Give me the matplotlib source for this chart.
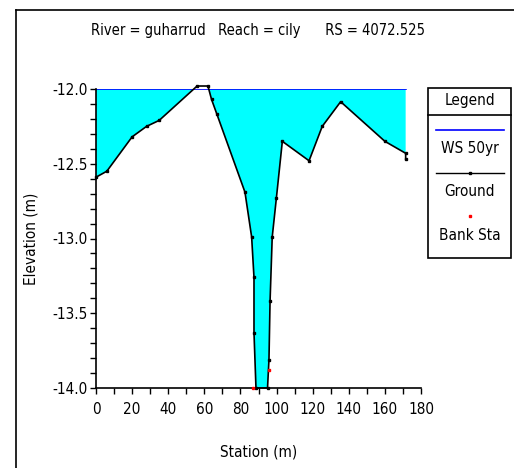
import matplotlib
matplotlib.use("Agg")
import matplotlib.pyplot as plt
from matplotlib.lines import Line2D
from matplotlib.patches import Rectangle
import numpy as np

plt.rcParams['font.family'] = ['DejaVu Sans']
plt.rcParams['font.stretch'] = 'condensed'

station = [0, 6, 20, 28, 35, 56, 62, 64, 67, 82.5, 86.2, 87.5, 87.5, 88.6, 95, 95.8, 96.4, 97.6, 99.9, 103.2, 118, 125.3, 135.5, 160, 171.5, 171.5]
elev = [-12.59, -12.55, -12.32, -12.25, -12.21, -11.98, -11.98, -12.07, -12.17, -12.69, -12.99, -13.26, -13.63, -14.0, -14.0, -13.81, -13.42, -12.99, -12.73, -12.35, -12.48, -12.25, -12.085, -12.35, -12.43, -12.47]
ws_elev = -12.0
ws_station = [0, 171.5]
bank_station = [87.1, 95.8]
bank_elev = [-14.0, -13.88]

fig = plt.figure(figsize=(5.14, 4.68), dpi=100)
ax = fig.add_axes([96/514, 1-388/468, 325/514, 299/468])

st = np.array(station); el = np.array(elev)
ax.fill_between(st, el, ws_elev, where=el <= ws_elev, interpolate=True, color='#00ffff', lw=0, zorder=1)
ax.plot(ws_station, [ws_elev, ws_elev], color='#0000ff', lw=1.2, zorder=2)
ax.plot(station, elev, color='black', lw=1.2, marker='s', ms=1.6, zorder=3, clip_on=False)
ax.plot(bank_station, bank_elev, ls='none', marker='s', ms=1.6, color='red', zorder=4, clip_on=False)

ax.set_xlim(0, 180)
ax.set_ylim(-14.0, -12.0)
ax.set_xticks(np.arange(0, 181, 20))
ax.set_xticks(np.arange(0, 181, 10), minor=True)
ax.set_yticks([-14.0, -13.5, -13.0, -12.5, -12.0])
ax.set_yticklabels(['-14.0', '-13.5', '-13.0', '-12.5', '-12.0'])
ax.set_yticks(np.arange(-14.0, -11.99, 0.1), minor=True)
for s in ['top', 'right']:
    ax.spines[s].set_visible(False)
for s in ['left', 'bottom']:
    ax.spines[s].set_linewidth(1.2)
ax.tick_params(which='both', direction='out', length=4, width=1, labelsize=11)
ax.tick_params(axis='x', which='major', pad=6)
ax.tick_params(axis='y', which='major', pad=2)
ax.set_xlabel('Station (m)', fontsize=11, labelpad=20)
ax.set_ylabel('Elevation (m)', fontsize=11, labelpad=10)

fig.text(258/514, 1-30/468, 'River = guharrud   Reach = cily      RS = 4072.525', ha='center', va='center', fontsize=10.5)

# figure border
fig.add_artist(Line2D([16/514, 16/514], [0, 1-10/468], color='black', lw=1.2, transform=fig.transFigure))
fig.add_artist(Line2D([16/514, 1], [1-10/468, 1-10/468], color='black', lw=1.2, transform=fig.transFigure))

# legend box
lx0, lx1 = 428/514, 511/514
def fy(p):
    return 1 - p/468
fig.add_artist(Rectangle((lx0, fy(258)), lx1-lx0, fy(88)-fy(258), fill=False, ec='black', lw=1.2, transform=fig.transFigure))
fig.add_artist(Line2D([lx0, lx1], [fy(115), fy(115)], color='black', lw=1.2, transform=fig.transFigure))
cx = (lx0+lx1)/2
fig.text(cx, fy(101), 'Legend', ha='center', va='center', fontsize=11)
fig.add_artist(Line2D([cx-34/514, cx+34/514], [fy(130), fy(130)], color='#0000ff', lw=1.2, transform=fig.transFigure))
fig.text(cx, fy(148), 'WS 50yr', ha='center', va='center', fontsize=11)
fig.add_artist(Line2D([cx-34/514, cx+34/514], [fy(173), fy(173)], color='black', lw=1.0, transform=fig.transFigure))
fig.add_artist(Line2D([cx], [fy(173)], color='black', marker='s', ms=1.6, transform=fig.transFigure))
fig.text(cx, fy(191), 'Ground', ha='center', va='center', fontsize=11)
fig.add_artist(Line2D([cx], [fy(216)], color='red', marker='s', ms=1.6, transform=fig.transFigure))
fig.text(cx, fy(235), 'Bank Sta', ha='center', va='center', fontsize=11)

fig.savefig('out.png', dpi=100)
